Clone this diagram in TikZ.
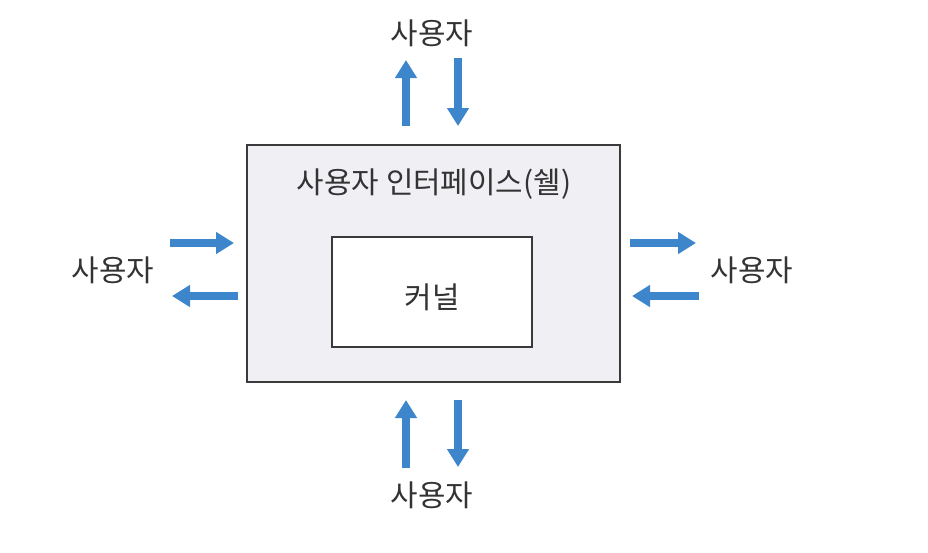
\documentclass[tikz,border=0pt]{standalone}
\usepackage{fontspec}
\setmainfont{Noto Sans CJK KR}
\usetikzlibrary{arrows.meta}
\definecolor{Flow}{HTML}{3D86CC}
\definecolor{Ink}{HTML}{333333}
\definecolor{Frame}{HTML}{3A3A3A}
\definecolor{Shell}{HTML}{F0F0F4}
\begin{document}
\begin{tikzpicture}[x=0.02cm,y=-0.02cm,
  lbl/.style={text=Ink,font=\fontsize{17}{20}\selectfont,inner sep=0pt},
  flow/.style={Flow,line width=4pt,-{Triangle[length=0.36cm,width=0.42cm]}}]
  \useasboundingbox (0,0) rectangle (928,552);
  % shell and kernel
  \draw[Frame,line width=1pt,fill=Shell] (247,145) rectangle (620,382);
  \draw[Frame,line width=0.9pt,fill=white] (332,237) rectangle (532,347);
  \node[lbl] (shell) at (434,184) {사용자 인터페이스(쉘)};
  \node[lbl] (kernel) at (432,297) {커널};
  % users
  \node[lbl] (utop) at (432,33) {사용자};
  \node[lbl] (ubot) at (432,495) {사용자};
  \node[lbl] (uleft) at (113,270) {사용자};
  \node[lbl] (uright) at (752,270) {사용자};
  % arrow ends
  \coordinate (t1a) at (406,126); \coordinate (t1b) at (406,60);
  \coordinate (t2a) at (458,58);  \coordinate (t2b) at (458,126);
  \coordinate (b1a) at (406,468); \coordinate (b1b) at (406,400);
  \coordinate (b2a) at (458,400); \coordinate (b2b) at (458,467);
  \coordinate (l1a) at (170,243); \coordinate (l1b) at (234,243);
  \coordinate (l2a) at (238,296); \coordinate (l2b) at (172,296);
  \coordinate (r1a) at (630,243); \coordinate (r1b) at (696,243);
  \coordinate (r2a) at (699,296); \coordinate (r2b) at (632,296);
  \draw[flow] (t1a) -- (t1b);
  \draw[flow] (t2a) -- (t2b);
  \draw[flow] (b1a) -- (b1b);
  \draw[flow] (b2a) -- (b2b);
  \draw[flow] (l1a) -- (l1b);
  \draw[flow] (l2a) -- (l2b);
  \draw[flow] (r1a) -- (r1b);
  \draw[flow] (r2a) -- (r2b);
\end{tikzpicture}
\end{document}
